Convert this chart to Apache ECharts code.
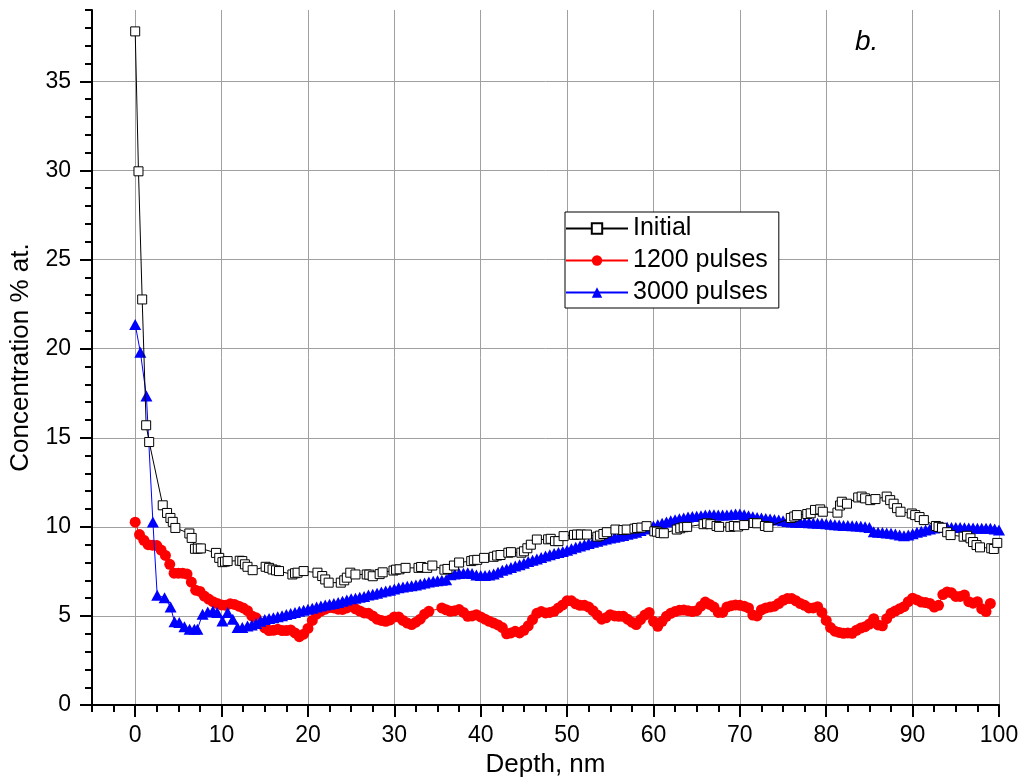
<!DOCTYPE html>
<html>
<head>
<meta charset="utf-8">
<script src="https://cdn.jsdelivr.net/npm/echarts@6/dist/echarts.min.js"></script>
<style>
html,body{margin:0;padding:0;background:#fff;}
#chart{width:1023px;height:783px;}
</style>
</head>
<body>
<div id="chart"></div>
<script>
// ---- data ----
const seriesNames = ['Initial', '1200 pulses', '3000 pulses'];
const xTickLabels = [0, 10, 20, 30, 40, 50, 60, 70, 80, 90, 100];
const yTickLabels = [0, 5, 10, 15, 20, 25, 30, 35];

const initX = [0,0.38,0.81,1.27,1.62,3.19,3.69,4.08,4.35,4.65,6.27,6.54,6.92,7.25,7.6,9.35,9.73,10.1,10.4,10.7,12.1,12.4,12.7,13.0,13.6,15.1,15.5,15.9,16.3,16.65,18.2,18.5,18.8,19.5,21.1,21.65,22.0,22.4,23.8,24.2,24.5,24.9,25.5,26.8,27.1,27.5,28.3,28.65,29.9,30.2,30.6,31.3,32.8,33.1,33.8,34.4,35.8,36.15,36.9,37.5,38.9,39.2,39.6,40.4,41.5,41.9,42.3,43.2,43.5,44.7,45.0,45.4,45.8,46.5,47.8,48.1,48.6,49.0,49.6,50.8,51.15,51.6,52.3,53.5,53.8,54.2,54.6,55.6,56.5,56.9,57.8,58.1,58.6,59.2,60.1,60.4,60.8,61.2,62.7,63.1,63.5,63.9,65.8,66.2,66.6,67.3,67.6,68.9,69.3,69.8,70.5,71.6,72.0,72.9,73.3,75.9,76.3,76.6,77.8,78.2,78.7,79.3,79.6,81.3,81.6,81.8,82.4,83.7,84.1,84.5,85.1,85.7,87.0,87.4,87.8,88.2,88.6,89.9,90.3,90.8,91.3,92.7,93.0,93.4,94.0,94.4,95.9,96.3,96.7,97.0,97.4,97.8,99.1,99.4,99.8];
const initY = [37.8,29.95,22.76,15.7,14.76,11.21,10.78,10.5,10.28,9.94,9.63,9.38,8.77,8.78,8.79,8.54,8.26,8.02,8.05,8.08,8.1,8.08,7.9,7.76,7.57,7.76,7.7,7.61,7.56,7.52,7.33,7.4,7.43,7.52,7.43,7.24,7.05,6.87,6.87,7.0,7.15,7.43,7.33,7.33,7.32,7.23,7.35,7.45,7.55,7.6,7.62,7.7,7.7,7.75,7.7,7.83,7.6,7.64,7.83,8.0,8.08,8.13,8.15,8.26,8.32,8.39,8.42,8.55,8.58,8.55,8.63,8.8,9.0,9.29,9.3,9.33,9.2,9.2,9.48,9.55,9.57,9.57,9.57,9.45,9.51,9.6,9.7,9.85,9.82,9.85,9.9,9.94,9.96,10.04,9.75,9.73,9.66,9.64,9.85,9.92,9.98,10.0,10.15,10.2,10.15,10.05,10.0,10.0,10.05,10.02,10.1,10.22,10.2,10.05,10.0,10.5,10.58,10.66,10.72,10.76,10.95,10.98,10.85,10.8,11.2,11.41,11.3,11.65,11.7,11.6,11.5,11.56,11.7,11.5,11.3,11.05,10.85,10.75,10.66,10.55,10.38,10.05,10.0,9.95,9.7,9.54,9.45,9.5,9.36,9.15,8.98,8.85,8.8,8.76,9.1];

const p1200X = [0,0.5,1,1.5,2,2.5,3,3.5,4,4.5,5,5.5,6,6.5,7,7.5,8,8.5,9,9.5,10,10.5,11,11.5,12,12.5,13,13.5,14,14.5,15,15.5,16,16.5,17,17.5,18,18.5,19,19.5,20,20.5,21,21.5,22,22.5,23,23.5,24,24.5,25,25.5,26,26.5,27,27.5,28,28.5,29,29.5,30,30.5,31,31.5,32,32.5,33,33.5,34,35.5,36,36.5,37,37.5,38,38.5,39,39.5,40,40.5,41,41.5,42,42.5,43,43.5,44,44.5,45,45.5,46,46.5,47,47.5,48,48.5,49,49.5,50,50.5,51,51.5,52,52.5,53,53.5,54,54.5,55,55.5,56,56.5,57,57.5,58,58.5,59,59.5,60,60.5,61,61.5,62,62.5,63,63.5,64,64.5,65,65.5,66,66.5,67,67.5,68,68.5,69,69.5,70,70.5,71,71.5,72,72.5,73,73.5,74,74.5,75,75.5,76,76.5,77,77.5,78,78.5,79,79.5,80,80.5,81,81.5,82,82.5,83,83.5,84,84.5,85,85.5,86,86.5,87,87.5,88,88.5,89,89.5,90,90.5,91,91.5,92,92.5,93,93.5,94,94.5,95,95.5,96,96.5,97,97.5,98,98.5,99];
const p1200Y = [10.26,9.57,9.25,9.0,8.97,8.95,8.7,8.4,7.9,7.4,7.4,7.4,7.35,6.9,6.45,6.38,6.12,5.95,5.8,5.7,5.62,5.6,5.68,5.65,5.55,5.45,5.3,5.0,4.9,4.6,4.33,4.18,4.2,4.25,4.18,4.18,4.22,4.05,3.84,3.98,4.3,4.75,5.1,5.28,5.38,5.47,5.45,5.38,5.37,5.45,5.58,5.4,5.28,5.17,5.15,5.0,4.82,4.75,4.7,4.78,4.95,4.95,4.75,4.6,4.52,4.65,4.82,5.1,5.26,5.45,5.35,5.26,5.3,5.36,5.2,4.98,5.0,5.07,4.95,4.82,4.7,4.6,4.5,4.35,4.0,4.05,4.14,4.05,4.2,4.45,4.8,5.15,5.25,5.17,5.2,5.26,5.45,5.62,5.85,5.85,5.68,5.6,5.6,5.5,5.3,5.05,4.82,4.9,5.07,5.0,4.98,4.98,4.82,4.65,4.52,4.8,5.05,5.2,4.7,4.42,4.7,4.98,5.15,5.25,5.32,5.33,5.3,5.25,5.3,5.55,5.78,5.65,5.5,5.2,5.2,5.5,5.58,5.62,5.6,5.55,5.45,5.05,5.0,5.35,5.45,5.5,5.55,5.7,5.88,5.98,5.98,5.85,5.7,5.6,5.45,5.45,5.52,5.2,4.75,4.35,4.15,4.08,4.03,4.05,4.03,4.2,4.32,4.4,4.55,4.85,4.5,4.45,4.85,5.15,5.28,5.4,5.52,5.8,6.0,5.9,5.78,5.75,5.7,5.5,5.6,6.2,6.35,6.3,6.1,6.1,6.18,5.8,5.72,5.8,5.4,5.25,5.7];

const p3000X = [0,0.6,1.3,2.05,2.55,3.4,4.1,4.55,5.1,5.7,6.3,6.85,7.2,7.8,8.4,9.0,9.5,10.1,10.7,11.3,11.85,12.4,13.0,13.5,14,14.5,15,15.5,16,16.5,17,17.5,18,18.5,19,19.5,20,20.5,21,21.5,22,22.5,23,23.5,24,24.5,25,25.5,26,26.5,27,27.5,28,28.5,29,29.5,30,30.5,31,31.5,32,32.5,33,33.5,34,34.5,35,35.5,36,36.5,37,37.5,38,38.5,39,39.5,40,40.5,41,41.5,42,42.5,43,43.5,44,44.5,45,45.5,46,46.5,47,47.5,48,48.5,49,49.5,50,50.5,51,51.5,52,52.5,53,53.5,54,54.5,55,55.5,56,56.5,57,57.5,58,58.5,59,59.5,60,60.5,61,61.5,62,62.5,63,63.5,64,64.5,65,65.5,66,66.5,67,67.5,68,68.5,69,69.5,70,70.5,71,71.5,72,72.5,73,73.5,74,74.5,75,75.5,76,76.5,77,77.5,78,78.5,79,79.5,80,80.5,81,81.5,82,82.5,83,83.5,84,84.5,85,85.5,86,86.5,87,87.5,88,88.5,89,89.5,90,90.5,91,91.5,92,92.5,93,93.5,94,94.5,95,95.5,96,96.5,97,97.5,98,98.5,99,99.5,100];
const p3000Y = [21.36,19.8,17.34,10.27,6.16,6.03,5.5,4.67,4.64,4.4,4.25,4.25,4.25,5.1,5.22,5.28,5.19,4.72,5.19,4.81,4.35,4.35,4.44,4.5,4.58,4.7,4.8,4.86,4.9,4.96,5.02,5.08,5.14,5.2,5.26,5.32,5.38,5.44,5.5,5.56,5.62,5.66,5.7,5.75,5.82,5.9,5.96,6.0,6.05,6.1,6.18,6.22,6.28,6.35,6.4,6.45,6.52,6.58,6.63,6.67,6.7,6.74,6.8,6.85,6.9,6.95,6.98,7.0,7.04,7.32,7.36,7.38,7.4,7.42,7.38,7.3,7.27,7.27,7.3,7.35,7.45,7.56,7.64,7.72,7.8,7.88,7.96,8.05,8.13,8.2,8.28,8.36,8.43,8.5,8.56,8.62,8.69,8.77,8.85,8.93,9.0,9.07,9.14,9.2,9.26,9.32,9.37,9.42,9.47,9.52,9.58,9.64,9.7,9.8,9.88,9.95,10.05,10.12,10.2,10.27,10.34,10.4,10.45,10.5,10.55,10.58,10.6,10.63,10.66,10.68,10.68,10.67,10.66,10.67,10.7,10.72,10.72,10.68,10.62,10.57,10.53,10.5,10.47,10.44,10.42,10.38,10.34,10.3,10.28,10.26,10.25,10.24,10.23,10.22,10.21,10.2,10.18,10.15,10.12,10.1,10.08,10.07,10.06,10.05,10.03,10.0,9.97,9.73,9.7,9.68,9.66,9.64,9.6,9.55,9.5,9.55,9.62,9.7,9.76,9.82,9.88,9.93,9.96,9.98,9.98,9.97,9.97,9.96,9.95,9.94,9.93,9.92,9.92,9.92,9.92,9.88,9.82];

function pairs(xs, ys) { return xs.map((x, i) => [x, ys[i]]); }

const FONT = "'Liberation Sans', Arial, sans-serif";
const chart = echarts.init(document.getElementById('chart'), null, {renderer: 'canvas'});

const option = {
  animation: false,
  backgroundColor: '#fff',
  grid: {left: 91, right: 24, top: 10, bottom: 77, containLabel: false},
  xAxis: [
    {
      type: 'value', min: -5, max: 100, position: 'bottom',
      name: 'Depth, nm', nameLocation: 'middle', nameGap: 46,
      nameTextStyle: {fontFamily: FONT, fontSize: 26, color: '#000'},
      axisLine: {show: true, onZero: false, lineStyle: {color: '#000', width: 2}},
      axisTick: {show: true, inside: false, length: 12, customValues: xTickLabels, lineStyle: {color: '#000', width: 2}},
      axisLabel: {show: true, customValues: xTickLabels, margin: 19, fontFamily: FONT, fontSize: 23, color: '#000'},
      splitLine: {show: true, lineStyle: {color: '#a0a0a0', width: 1}}
    },
    {
      type: 'value', min: -5, max: 100, interval: 2.5, position: 'bottom',
      axisLine: {show: false, onZero: false},
      axisTick: {show: true, inside: false, length: 7, lineStyle: {color: '#000', width: 2}},
      axisLabel: {show: false},
      splitLine: {show: false}
    }
  ],
  yAxis: [
    {
      type: 'value', min: 0, max: 39, position: 'left',
      name: 'Concentration % at.', nameLocation: 'middle', nameGap: 58,
      nameTextStyle: {fontFamily: FONT, fontSize: 26, color: '#000'},
      axisLine: {show: true, onZero: false, lineStyle: {color: '#000', width: 2}},
      axisTick: {show: true, inside: false, length: 12, customValues: yTickLabels, lineStyle: {color: '#000', width: 2}},
      axisLabel: {show: true, customValues: yTickLabels, margin: 21, fontFamily: FONT, fontSize: 23, color: '#000'},
      splitLine: {show: true, lineStyle: {color: '#a0a0a0', width: 1}}
    },
    {
      type: 'value', min: 0, max: 39, interval: 1, position: 'left',
      axisLine: {show: false, onZero: false},
      axisTick: {show: true, inside: false, length: 7, lineStyle: {color: '#000', width: 2}},
      axisLabel: {show: false},
      splitLine: {show: false}
    }
  ],
  legend: {
    orient: 'vertical', left: 565, top: 212,
    itemWidth: 62, itemHeight: 13, itemGap: 7,
    padding: [4, 11, 3, 0],
    borderColor: '#000', borderWidth: 1, backgroundColor: '#fff',
    textStyle: {fontFamily: FONT, fontSize: 25, color: '#000'},
    data: seriesNames
  },
  graphic: [{
    type: 'text', left: 855, top: 28, z: 10,
    style: {text: 'b.', font: "italic 28px " + FONT, fill: '#000'}
  }],
  series: [
    {
      name: seriesNames[0], type: 'line', xAxisIndex: 0, yAxisIndex: 0, z: 4,
      data: pairs(initX, initY),
      symbol: 'rect', symbolSize: 9, showSymbol: true, showAllSymbol: true,
      itemStyle: {color: '#fff', borderColor: '#000', borderWidth: 1},
      lineStyle: {color: '#000', width: 1}
    },
    {
      name: seriesNames[1], type: 'line', xAxisIndex: 0, yAxisIndex: 0, z: 2,
      data: pairs(p1200X, p1200Y),
      symbol: 'circle', symbolSize: 11, showSymbol: true, showAllSymbol: true,
      itemStyle: {color: '#ff0000'},
      lineStyle: {color: '#ff0000', width: 1}
    },
    {
      name: seriesNames[2], type: 'line', xAxisIndex: 0, yAxisIndex: 0, z: 3,
      data: pairs(p3000X, p3000Y),
      symbol: 'triangle', symbolSize: [12, 11], showSymbol: true, showAllSymbol: true,
      itemStyle: {color: '#0000ff'},
      lineStyle: {color: '#0000ff', width: 1}
    }
  ]
};
chart.setOption(option);
</script>
</body>
</html>
